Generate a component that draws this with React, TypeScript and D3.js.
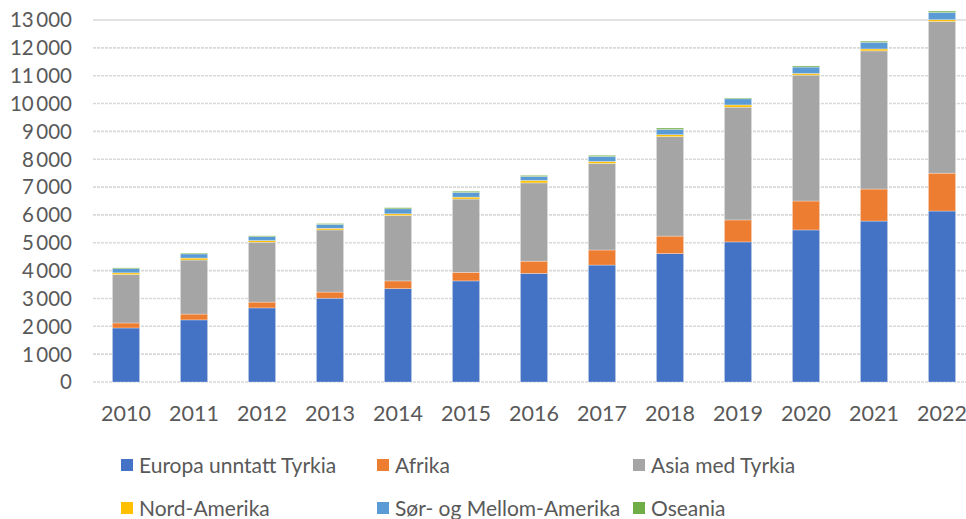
import React from "react";
import * as d3 from "d3";

const years = ["2010","2011","2012","2013","2014","2015","2016","2017","2018","2019","2020","2021","2022"];
const europa = [1940, 2230, 2660, 3010, 3350, 3630, 3900, 4200, 4610, 5030, 5460, 5780, 6140];
const afrika = [180, 210, 210, 220, 280, 310, 440, 540, 630, 790, 1040, 1150, 1360];
const asia = [1740, 1940, 2150, 2230, 2350, 2630, 2810, 3110, 3570, 4050, 4520, 4960, 5450];
const nordAmerika = [60, 70, 60, 60, 60, 70, 90, 70, 70, 80, 60, 70, 60];
const sorAmerika = [150, 150, 140, 140, 180, 170, 140, 180, 190, 220, 230, 240, 260];
const oseania = [30, 30, 30, 30, 40, 40, 40, 40, 50, 30, 40, 40, 50];
const yTicks = [0,1000,2000,3000,4000,5000,6000,7000,8000,9000,10000,11000,12000,13000];

const seriesNames = ["Europa unntatt Tyrkia","Afrika","Asia med Tyrkia","Nord-Amerika","Sør- og Mellom-Amerika","Oseania"];
const seriesValues = [europa, afrika, asia, nordAmerika, sorAmerika, oseania];
const colors = ["#4472C4","#ED7D31","#A5A5A5","#FFC000","#5B9BD5","#70AD47"];

const W = 966, H = 519;
const FONT = "Lato, 'Open Sans', sans-serif";
const TEXT = "#595959";

function fmt(v: number) {
  if (v === 0) return "0";
  const s = String(v);
  return s.slice(0, s.length - 3) + "\u2009" + s.slice(-3);
}

export default function App() {
  const x = d3.scaleBand<string>().domain(years).range([92, 976]).paddingInner(0.6).paddingOuter(0.3);
  const y = d3.scaleLinear().domain([0, 13000]).range([382, 20]);

  const rows = years.map((yr, i) => {
    const o: any = { year: yr };
    seriesNames.forEach((n, k) => (o[n] = seriesValues[k][i]));
    return o;
  });
  const stacked = d3.stack<any>().keys(seriesNames)(rows);

  const legendPos = [
    { x: 121, y: 465 }, { x: 377, y: 465 }, { x: 633, y: 465 },
    { x: 121, y: 508 }, { x: 377, y: 508 }, { x: 633, y: 508 },
  ];

  return (
    <svg width={W} height={H} style={{ position: "absolute", left: 0, top: 0, background: "#fff" }} fontFamily={FONT}>
      <rect width={W} height={H} fill="#fff" />
      {yTicks.map((t) => (
        <g key={t}>
          <line x1={93} x2={W} y1={y(t)} y2={y(t)} stroke="#d9d9d9" strokeWidth={1.6}
            strokeDasharray={t === 13000 ? undefined : "3 1"} />
          <text x={72} y={y(t)} dy="0.36em" textAnchor="end" fontSize={20.5} fill={TEXT}>{fmt(t)}</text>
        </g>
      ))}
      {stacked.map((s, k) => (
        <g key={s.key} fill={colors[k]}>
          {s.map((d, i) => (
            <rect key={i} x={x(years[i])} width={x.bandwidth()} y={y(d[1])} height={Math.max(0, y(d[0]) - y(d[1]))}
              stroke="#ffffff" strokeOpacity={0.5} strokeWidth={0.6} />
          ))}
        </g>
      ))}
      {years.map((yr) => (
        <text key={yr} x={(x(yr) as number) + x.bandwidth() / 2} y={421} textAnchor="middle" fontSize={21.5} fill={TEXT}>{yr}</text>
      ))}
      {seriesNames.map((n, k) => (
        <g key={n}>
          <rect x={legendPos[k].x} y={legendPos[k].y - 6} width={12} height={12} fill={colors[k]} />
          <text x={legendPos[k].x + 18} y={legendPos[k].y} dy="0.36em" fontSize={21} fill={TEXT}>{n}</text>
        </g>
      ))}
    </svg>
  );
}
